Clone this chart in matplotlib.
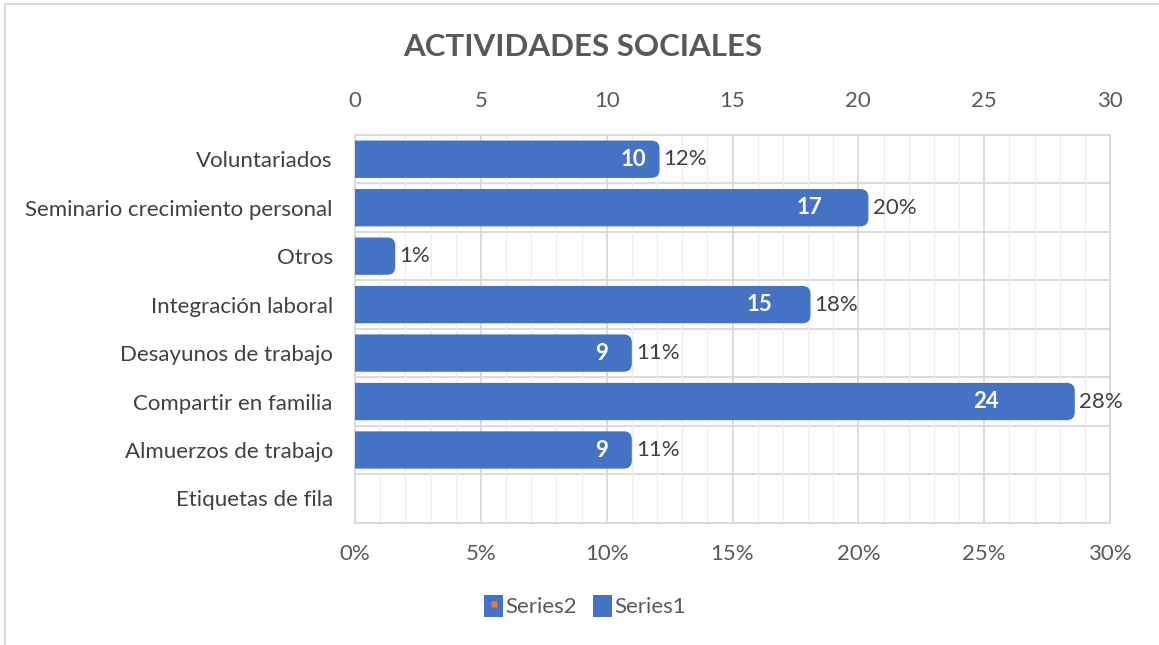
import matplotlib.pyplot as plt
from matplotlib.patches import FancyBboxPatch, Patch
from matplotlib.lines import Line2D

plt.rcParams['font.family'] = ['Lato', 'DejaVu Sans']

# Data
categories = ["Voluntariados", "Seminario crecimiento personal", "Otros",
              "Integración laboral", "Desayunos de trabajo", "Compartir en familia",
              "Almuerzos de trabajo", "Etiquetas de fila"]
counts = [10, 17, 1, 15, 9, 24, 9]                     # Series2 (top axis)
percents = [12.1, 20.4, 1.6, 18.1, 11.0, 28.6, 11.0]   # Series1 (bottom axis), bar length
percent_labels = ["12%", "20%", "1%", "18%", "11%", "28%", "11%"]
top_ticks = [0, 5, 10, 15, 20, 25, 30]
bottom_labels = ["0%", "5%", "10%", "15%", "20%", "25%", "30%"]

blue = '#4472C4'
grid_major = '#d9d9d9'
grid_minor = '#eeeeee'
text_gray = '#595959'
label_gray = '#404040'
fs = 16

fig = plt.figure(figsize=(11.59, 6.45), dpi=100)
ax = fig.add_axes([355 / 1159, 1 - 522.7 / 645, (1110 - 355) / 1159, (522.7 - 135) / 645])

ax.set_xlim(0, 30)
ax.set_ylim(len(categories) - 0.5, -0.5)

# grid
ax.set_xticks(top_ticks)
ax.set_xticks(range(0, 31), minor=True)
ax.grid(which='major', axis='x', color=grid_major, lw=1.3, zorder=0)
ax.grid(which='minor', axis='x', color=grid_minor, lw=1.0, zorder=0)
ax.set_axisbelow(True)
for i in range(len(categories) + 1):
    ax.axhline(i - 0.5, color=grid_major, lw=1.3, zorder=0.5)
for s in ax.spines.values():
    s.set_color(grid_major)
    s.set_linewidth(1.3)

# bars with rounded ends
h = 0.77
for i, p in enumerate(percents):
    bar = FancyBboxPatch((-1, i - h / 2), p + 1, h,
                         boxstyle="round,pad=0,rounding_size=0.32",
                         mutation_aspect=0.52, facecolor=blue, edgecolor='none',
                         zorder=3, clip_on=True)
    ax.add_patch(bar)
    ax.annotate(percent_labels[i], xy=(p, i), xytext=(3, 0), textcoords='offset points',
                ha='left', va='center', fontsize=fs, color=label_gray, zorder=4)
    # the count label of the smallest bar sits on white and is not visible
    if counts[i] > 1:
        ax.annotate(str(counts[i]), xy=(counts[i], i), xytext=(10, 0), textcoords='offset points',
                    ha='left', va='center', fontsize=fs, color='white',
                    fontweight='bold', zorder=4)

# axes labels
ax.set_yticks(range(len(categories)))
ax.set_yticklabels(categories, fontsize=fs, color=label_gray)
ax.set_xticklabels(bottom_labels, fontsize=fs, color=text_gray)
ax.tick_params(axis='both', which='both', length=0)
ax.tick_params(axis='x', pad=15)
ax.tick_params(axis='y', pad=16)

top = ax.secondary_xaxis('top')
top.set_xticks(top_ticks)
top.set_xticklabels([str(t) for t in top_ticks], fontsize=fs, color=text_gray)
top.tick_params(length=0, pad=17)
for s in top.spines.values():
    s.set_visible(False)

fig.text(583 / 1159, 1 - 47 / 645, "ACTIVIDADES SOCIALES", ha='center', va='center',
         fontsize=22.5, fontweight='bold', color=text_gray)

# legend
h2 = (Patch(facecolor=blue, edgecolor='none'),
      Line2D([], [], marker='s', color='none', markerfacecolor='#ED7D31',
             markeredgecolor='none', markersize=4))
h1 = Patch(facecolor=blue, edgecolor='none')
fig.legend([h2, h1], ["Series2", "Series1"], loc='center', bbox_to_anchor=(585 / 1159, 1 - 606 / 645),
           ncol=2, frameon=False, fontsize=fs, labelcolor=text_gray,
           handlelength=0.85, handleheight=1.2, handletextpad=0.1, columnspacing=0.7)

# chart frame (left and top edges)
fig.add_artist(Line2D([5 / 1159, 5 / 1159], [0, 1 - 3.5 / 645], color='#d9d9d9', lw=1.5,
                      transform=fig.transFigure))
fig.add_artist(Line2D([5 / 1159, 1], [1 - 3.5 / 645, 1 - 3.5 / 645], color='#d9d9d9', lw=1.5,
                      transform=fig.transFigure))

fig.savefig('out.png', dpi=100)
